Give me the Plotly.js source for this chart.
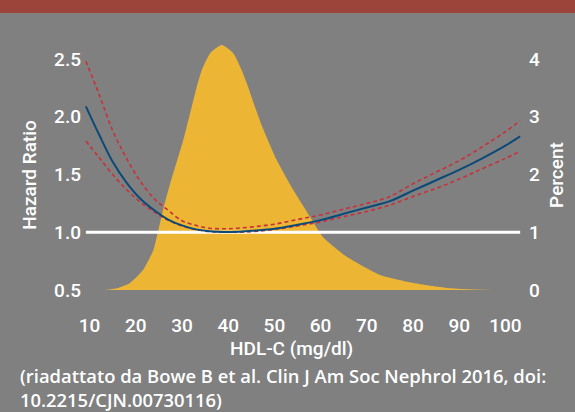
<!DOCTYPE html>
<html>
<head>
<meta charset="utf-8">
<script src="https://cdn.plot.ly/plotly-3.0.1.min.js"></script>
<style>html,body{margin:0;padding:0;background:#808080;}#chart{width:575px;height:412px;}</style>
</head>
<body>
<div id="chart"></div>
<script>
// HDL-C distribution (percent of population)
const densX = [13.3, 15.9, 18.7, 21.6, 23.8, 24.9, 26.0, 27.4, 30.3, 32.1, 33.2, 34.3, 36.1, 38.6, 41.1, 42.9, 44.3, 45.8, 47.5, 50.5, 54.1, 57.7, 60.5, 65.6, 72.9, 80.1, 87.3, 92.0, 97.3];
const densPct = [0, 0.03, 0.116, 0.35, 0.69, 1.04, 1.42, 1.83, 2.60, 3.17, 3.52, 3.81, 4.10, 4.24, 4.10, 3.81, 3.52, 3.17, 2.80, 2.25, 1.73, 1.27, 0.92, 0.58, 0.26, 0.12, 0.035, 0.012, 0];

// Hazard ratio curve
const hrX = [9.2, 12, 15, 18, 21, 24, 27, 30, 33, 36, 39, 42, 45, 50, 55, 60, 65, 70, 75, 80, 85, 90, 95, 100, 103.2];
const hr = [2.09, 1.85, 1.61, 1.43, 1.29, 1.19, 1.11, 1.06, 1.025, 1.008, 1.003, 1.005, 1.013, 1.03, 1.065, 1.105, 1.16, 1.215, 1.27, 1.36, 1.45, 1.54, 1.64, 1.75, 1.83];

// Upper 95% CI
const upX = [9.2, 12, 15, 18, 21, 24, 27, 30, 33, 36, 39, 42, 46, 50, 55, 60, 65, 70, 75, 80, 85, 90, 95, 100, 103.2];
const upHr = [2.48, 2.20, 1.88, 1.64, 1.44, 1.29, 1.19, 1.10, 1.06, 1.035, 1.03, 1.035, 1.05, 1.07, 1.11, 1.15, 1.20, 1.25, 1.31, 1.42, 1.52, 1.62, 1.74, 1.87, 1.965];

// Lower 95% CI
const loX = [9.2, 12, 15, 18, 21, 24, 27, 30, 35, 40, 45, 50, 55, 60, 65, 70, 75, 80, 85, 90, 95, 100, 103.2];
const loHr = [1.79, 1.65, 1.50, 1.37, 1.26, 1.175, 1.105, 1.055, 1.01, 1.0, 1.005, 1.025, 1.055, 1.09, 1.135, 1.18, 1.235, 1.31, 1.38, 1.46, 1.55, 1.64, 1.70];

// Reference line HR = 1
const refX = [9.2, 103.2];
const refY = [1, 1];

const xTicks = [10, 20, 30, 40, 50, 60, 70, 80, 90, 100];
const yTicks = [0.5, 1.0, 1.5, 2.0, 2.5];
const pctTicks = [0, 1, 2, 3, 4];

const xTitle = 'HDL-C (mg/dl)';
const yTitle = 'Hazard Ratio';
const pctTitle = 'Percent';
const sourceLines = ['(riadattato da Bowe B et al. Clin J Am Soc Nephrol 2016, doi:', '10.2215/CJN.00730116)'];

const FONT = 'Roboto, "DejaVu Sans", sans-serif';
const SRCFONT = '"Open Sans", "DejaVu Sans", sans-serif';
const tickFont = {family: FONT, size: 19, color: '#ffffff', weight: 500};
const titleFont = {family: FONT, size: 19, color: '#ffffff', weight: 500};
const srcFont = {family: SRCFONT, size: 18.4, color: '#ffffff', weight: 600};

const traces = [
  // density on the (right-hand) percent axis, drawn first
  {x: densX, y: densPct, yaxis: 'y', type: 'scatter', mode: 'lines', line: {width: 0, shape: 'spline', smoothing: 0.5, color: '#EDB534'}, fill: 'tozeroy', fillcolor: '#EDB534', hoverinfo: 'skip'},
  // hazard ratio traces on the overlaying (left-hand) axis
  {x: refX, y: refY, yaxis: 'y2', type: 'scatter', mode: 'lines', line: {color: '#ffffff', width: 3}},
  {x: upX, y: upHr, yaxis: 'y2', type: 'scatter', mode: 'lines', line: {color: '#C8303A', width: 1.6, dash: '4px,3px', shape: 'spline'}},
  {x: loX, y: loHr, yaxis: 'y2', type: 'scatter', mode: 'lines', line: {color: '#C8303A', width: 1.6, dash: '4px,3px', shape: 'spline'}},
  {x: hrX, y: hr, yaxis: 'y2', type: 'scatter', mode: 'lines', line: {color: '#0B4A78', width: 2, shape: 'spline'}}
];

const layout = {
  width: 575, height: 412,
  paper_bgcolor: '#808080', plot_bgcolor: '#808080',
  margin: {l: 84, r: 51, t: 40, b: 102},
  showlegend: false,
  font: {family: FONT, color: '#ffffff'},
  xaxis: {
    range: [8.79, 104.03], tickvals: xTicks, ticks: '', showgrid: false, zeroline: false, showline: false,
    tickfont: tickFont, ticklabelstandoff: 2
  },
  yaxis: {
    side: 'right', range: [-0.3456, 4.328], tickvals: pctTicks, ticks: '', showgrid: false, zeroline: false, showline: false,
    tickfont: tickFont, ticklabelstandoff: 4,
    title: {text: pctTitle, font: titleFont, standoff: 10}
  },
  yaxis2: {
    overlaying: 'y', side: 'left', range: [0.3272, 2.664], tickvals: yTicks, tickformat: '.1f', ticks: '', showgrid: false, zeroline: false, showline: false,
    tickfont: tickFont, ticklabelstandoff: 2,
    title: {text: yTitle, font: titleFont, standoff: 12}
  },
  shapes: [
    {type: 'rect', xref: 'paper', yref: 'paper', x0: -0.2, x1: 1.2, y0: 1.1, y1: 1.2, fillcolor: '#9C4439', line: {width: 0}, layer: 'above'}
  ],
  annotations: [
    {text: xTitle, xref: 'paper', yref: 'paper', x: (291.5 - 84) / 440, y: 1 - (348 - 40) / 270, xanchor: 'center', yanchor: 'middle', showarrow: false,
     font: titleFont},
    {text: sourceLines.join('<br>'), xref: 'paper', yref: 'paper', x: (19 - 84) / 440, y: 1 - (387.5 - 40) / 270, xanchor: 'left', yanchor: 'middle', align: 'left', showarrow: false,
     borderpad: 0, font: srcFont}
  ]
};

Plotly.newPlot('chart', traces, layout, {displayModeBar: false, staticPlot: true});
</script>
</body>
</html>
